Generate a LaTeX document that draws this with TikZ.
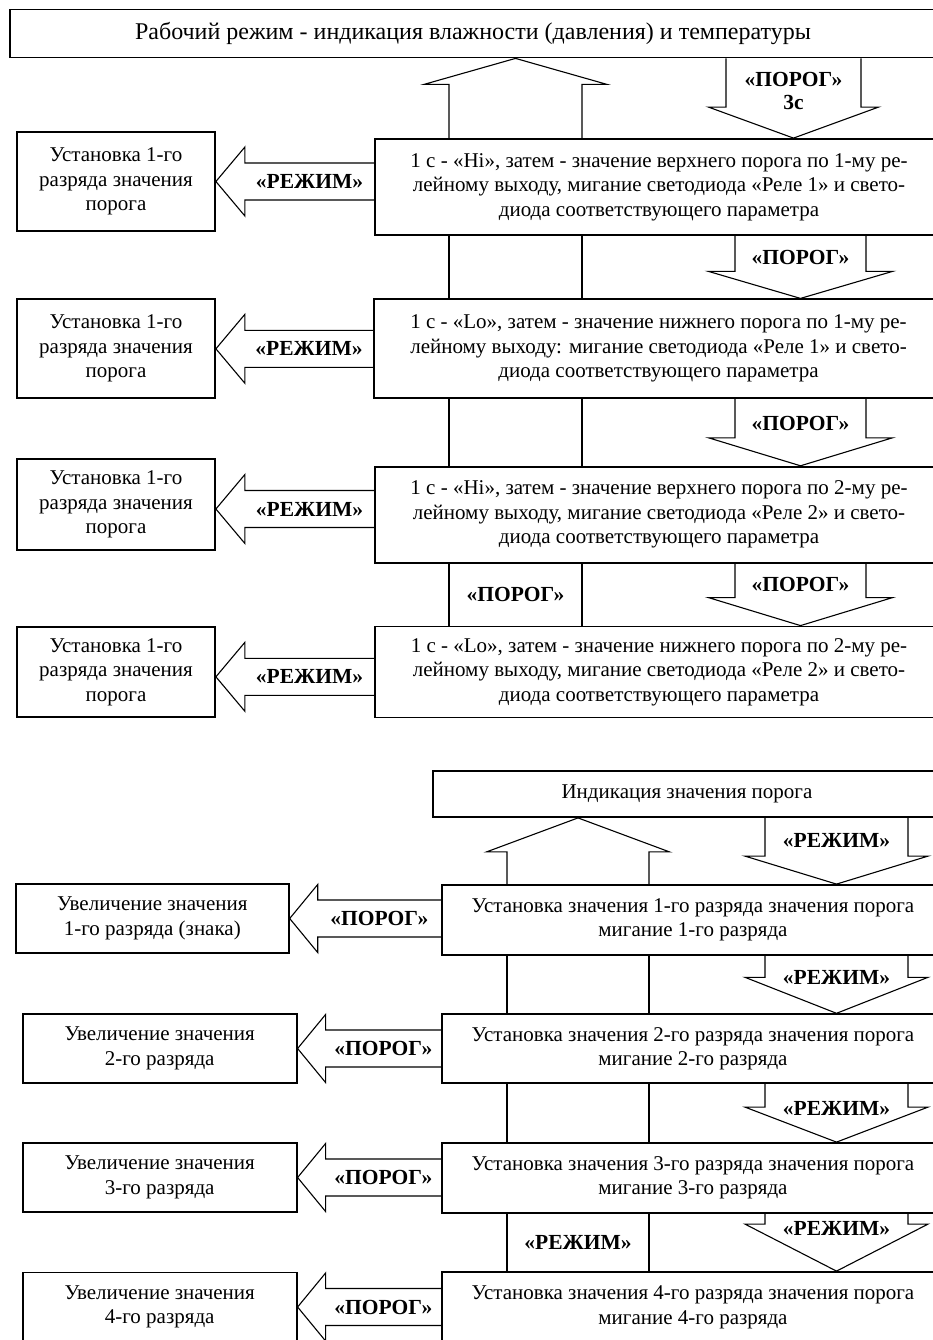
\documentclass[tikz,border=0pt]{standalone}
\usepackage{fontspec}
\setmainfont{Liberation Serif}
\usetikzlibrary{calc}
\tikzset{
  box/.style={draw, line width=1.8pt, align=center, inner sep=0pt,
    font=\fontsize{21}{24.5}\selectfont},
  lbl/.style={align=center, inner sep=0pt, font=\fontsize{21.5}{23}\selectfont\bfseries},
  blk/.style={draw, line width=1.1pt, line join=miter},
  blk shaft/.store in=\bshaft, blk head/.store in=\bhead, blk len/.store in=\blen,
  blk shaft=18.5pt, blk head=34.5pt, blk len=29pt,
  % hollow block arrows between the boxes
  larr/.style={blk, to path={let \p1=(\tikztotarget), \p2=(\tikztostart) in
      (\x2,\y1+\bshaft) -- (\x1+\blen,\y1+\bshaft) \tikztonodes
      -- (\x1+\blen,\y1+\bhead) -- (\p1) -- (\x1+\blen,\y1-\bhead)
      -- (\x1+\blen,\y1-\bshaft) -- (\x2,\y1-\bshaft)}},
  darr/.style={blk, to path={let \p1=(\tikztostart), \p2=(\tikztotarget) in
      (\x1-\bshaft,\y1) -- (\x1-\bshaft,\y2+\blen) -- (\x1-\bhead,\y2+\blen)
      -- (\p2) -- (\x1+\bhead,\y2+\blen) -- (\x1+\bshaft,\y2+\blen)
      -- (\x1+\bshaft,\y1) \tikztonodes}},
  uarr/.style={blk, to path={let \p1=(\tikztostart), \p2=(\tikztotarget) in
      (\x1-\bshaft,\y1) -- (\x1-\bshaft,\y2-\blen) -- (\x1-\bhead,\y2-\blen)
      -- (\p2) -- (\x1+\bhead,\y2-\blen) -- (\x1+\bshaft,\y2-\blen)
      -- (\x1+\bshaft,\y1) \tikztonodes}},
}

\begin{document}
\begin{tikzpicture}[x=1pt,y=-1pt]
\useasboundingbox (0,0) rectangle (933,1340);
\clip (0,0) rectangle (933,1340);

% columns of the arrows
\coordinate (up1) at (515.5,0);
\coordinate (bl1) at (449,0);
\coordinate (br1) at (582,0);
\coordinate (dn0) at (793.5,0);
\coordinate (dn1) at (800.5,0);
\coordinate (up2) at (578,0);
\coordinate (bl2) at (507,0);
\coordinate (br2) at (649,0);
\coordinate (dn2) at (836.5,0);

% working mode
\node[box, font=\fontsize{24}{28}\selectfont, minimum width=926pt, minimum height=48pt] (t1) at (473,33.5)
  {Рабочий режим - индикация влажности (давления) и температуры};

\node[box, minimum width=568pt, minimum height=96pt] (b1) at (659,187)
  {1 с - «Hi», затем - значение верхнего порога по 1-му ре-\\лейному выходу, мигание светодиода «Реле 1» и свето-\\диода соответствующего параметра};
\node[box, minimum width=569pt, minimum height=99pt] (b2) at (658.5,348.8)
  {1 с - «Lo», затем - значение нижнего порога по 1-му ре-\\лейному выходу: мигание светодиода «Реле 1» и свето-\\диода соответствующего параметра};
\node[box, minimum width=568pt, minimum height=96pt] (b3) at (659,514.7)
  {1 с - «Hi», затем - значение верхнего порога по 2-му ре-\\лейному выходу, мигание светодиода «Реле 2» и свето-\\диода соответствующего параметра};
\node[box, minimum width=568pt, minimum height=91pt] (b4) at (659,672)
  {1 с - «Lo», затем - значение нижнего порога по 2-му ре-\\лейному выходу, мигание светодиода «Реле 2» и свето-\\диода соответствующего параметра};

\node[box, minimum width=198pt, minimum height=99pt] (l1) at (116,181.5) {Установка 1-го\\разряда значения\\порога};
\node[box, minimum width=198pt, minimum height=99pt] (l2) at (116,348.8) {Установка 1-го\\разряда значения\\порога};
\node[box, minimum width=198pt, minimum height=91pt] (l3) at (116,504.5) {Установка 1-го\\разряда значения\\порога};
\node[box, minimum width=198pt, minimum height=90pt] (l4) at (116,671.8) {Установка 1-го\\разряда значения\\порога};

\draw[uarr, blk shaft=66.5pt, blk head=91.5pt, blk len=26pt] (b1.north -| up1) to (t1.south -| up1);
\draw[darr, blk shaft=67.5pt, blk head=85pt, blk len=31pt] (t1.south -| dn0) to (b1.north -| dn0);
\node[lbl] (k0) at ($(t1.south -| dn0)+(0,32.5)$) {«ПОРОГ»\\3с};

\draw[darr, blk shaft=65.5pt, blk head=92pt, blk len=27pt] (b1.south -| dn1) to (b2.north -| dn1);
\node[lbl] (k1) at ($(b1.south -| dn1)+(0,22)$) {«ПОРОГ»};
\draw[darr, blk shaft=65.5pt, blk head=92pt, blk len=28pt] (b2.south -| dn1) to (b3.north -| dn1);
\node[lbl] (k2) at ($(b2.south -| dn1)+(0,24)$) {«ПОРОГ»};
\draw[darr, blk shaft=65.5pt, blk head=92pt, blk len=28pt] (b3.south -| dn1) to (b4.north -| dn1);
\node[lbl] (k3) at ($(b3.south -| dn1)+(0,21)$) {«ПОРОГ»};

\foreach \a/\b in {b1/b2, b2/b3, b3/b4}
  \draw[blk] (\a.south -| bl1) -- (\b.north -| bl1) (\a.south -| br1) -- (\b.north -| br1);
\node[lbl] (k4) at ($(b3.south -| up1)!0.5!(b4.north -| up1)$) {«ПОРОГ»};

\draw[larr] (b1.west) to node[lbl, midway, yshift=-18.5pt] {«РЕЖИМ»} (l1.east);
\draw[larr] (b2.west) to node[lbl, midway, yshift=-18.5pt] {«РЕЖИМ»} (l2.east);
\draw[larr] (b3.west) to node[lbl, midway, yshift=-18.5pt] {«РЕЖИМ»} ([yshift=-4.5pt]l3.east);
\draw[larr] (b4.west) to node[lbl, midway, yshift=-18.5pt] {«РЕЖИМ»} ([yshift=-5pt]l4.east);

% threshold setting
\node[box, minimum width=508pt, minimum height=46pt] (t2) at (687,794) {Индикация значения порога};

\node[box, minimum width=502pt, minimum height=70pt] (b5) at (693,920)
  {Установка значения 1-го разряда значения порога\\мигание 1-го разряда};
\node[box, minimum width=502pt, minimum height=69pt] (b6) at (693,1048.7)
  {Установка значения 2-го разряда значения порога\\мигание 2-го разряда};
\node[box, minimum width=502pt, minimum height=70pt] (b7) at (693,1178)
  {Установка значения 3-го разряда значения порога\\мигание 3-го разряда};
\node[box, minimum width=502pt, minimum height=71pt] (b8) at (693,1307.5)
  {Установка значения 4-го разряда значения порога\\мигание 4-го разряда};

\node[box, minimum width=273pt, minimum height=69pt] (l5) at (152.3,918.5) {Увеличение значения\\1-го разряда (знака)};
\node[box, minimum width=274pt, minimum height=69pt] (l6) at (159.7,1048.5) {Увеличение значения\\2-го разряда};
\node[box, minimum width=274pt, minimum height=69pt] (l7) at (159.7,1177.5) {Увеличение значения\\3-го разряда};
\node[box, minimum width=274pt, minimum height=69pt] (l8) at (159.7,1307) {Увеличение значения\\4-го разряда};

\draw[uarr, blk shaft=71pt, blk head=91.5pt, blk len=34pt] (b5.north -| up2) to (t2.south -| up2);
\draw[darr, blk shaft=71.5pt, blk head=91.5pt, blk len=28pt] (t2.south -| dn2) to (b5.north -| dn2);
\node[lbl] (m0) at ($(t2.south -| dn2)+(0,23)$) {«РЕЖИМ»};
\draw[darr, blk shaft=71.5pt, blk head=91.5pt, blk len=36pt] (b5.south -| dn2) to (b6.north -| dn2);
\node[lbl] (m1) at ($(b5.south -| dn2)+(0,22)$) {«РЕЖИМ»};
\draw[darr, blk shaft=71.5pt, blk head=91.5pt, blk len=35pt] (b6.south -| dn2) to (b7.north -| dn2);
\node[lbl] (m2) at ($(b6.south -| dn2)+(0,24)$) {«РЕЖИМ»};
\draw[darr, blk shaft=71.5pt, blk head=91.5pt, blk len=47pt] (b7.south -| dn2) to (b8.north -| dn2);
\node[lbl] (m3) at ($(b7.south -| dn2)+(0,15)$) {«РЕЖИМ»};

\foreach \a/\b in {b5/b6, b6/b7, b7/b8}
  \draw[blk] (\a.south -| bl2) -- (\b.north -| bl2) (\a.south -| br2) -- (\b.north -| br2);
\node[lbl] (m4) at ($(b7.south -| up2)!0.5!(b8.north -| up2)$) {«РЕЖИМ»};

\draw[larr, blk len=28pt, blk head=34pt] (b5.west) to node[lbl, midway, yshift=-18.5pt] {«ПОРОГ»} (l5.east);
\draw[larr, blk len=28pt, blk head=34pt] (b6.west) to node[lbl, midway, yshift=-18.5pt] {«ПОРОГ»} (l6.east);
\draw[larr, blk len=28pt, blk head=34pt] (b7.west) to node[lbl, midway, yshift=-18.5pt] {«ПОРОГ»} (l7.east);
\draw[larr, blk len=28pt, blk head=34pt] (b8.west) to node[lbl, midway, yshift=-18.5pt] {«ПОРОГ»} (l8.east);
\end{tikzpicture}
\end{document}
